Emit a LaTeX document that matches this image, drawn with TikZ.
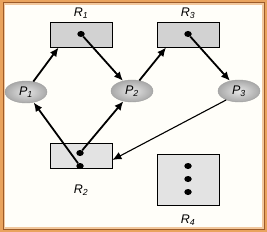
\documentclass[tikz,border=0pt]{standalone}
\usepackage{fontspec}
\setmainfont{Liberation Sans}
\usetikzlibrary{shapes.geometric, arrows.meta}
\definecolor{frame-orange}{HTML}{E9A35E}
\definecolor{frame-brown}{HTML}{9C5B2A}
\definecolor{paper}{HTML}{FFFEF9}
\tikzset{
  % The 'resource' style is the grey box for a resource type
  resource/.style={draw=black, line width=0.9pt, fill=gray!35, shape=rectangle, minimum width=62pt, minimum height=25pt, inner sep=0pt},
  % The 'resource-light' style is the paler box used at the bottom
  resource-light/.style={resource, fill=gray!22},
  % The 'process' style is the shaded ellipse for a process
  process/.style={shape=ellipse, draw=gray!75, line width=0.4pt, inner color=gray!20, outer color=gray!68, minimum width=42pt, minimum height=22pt, inner sep=0pt, font=\fontsize{12.5}{12.5}\selectfont\itshape},
  % The 'instance' style is the black dot for one instance of a resource
  instance/.style={shape=ellipse, fill=black, minimum width=7.5pt, minimum height=6pt, inner sep=0pt},
  % The 'name-text' style is for the resource names
  name-text/.style={font=\fontsize{12.5}{12.5}\selectfont\itshape, text=black, inner sep=0pt},
  % The 'edge' style is for the request and assignment arrows
  edge/.style={draw=black, line width=1.8pt, -{Latex[length=9pt, width=8pt]}},
  % The 'edge-thin' style is the lighter request arrow
  edge-thin/.style={edge, line width=1.1pt}
}
\begin{document}
\begin{tikzpicture}[x=1pt, y=-1pt]

  % Frame round the whole picture
  \useasboundingbox (0,0) rectangle (267,232);
  \fill[frame-orange] (0,0) rectangle (267,232);
  \fill[frame-brown] (2.5,2.5) rectangle (264.5,229.5);
  \fill[frame-orange!60] (3.5,3.5) rectangle (263.5,228.5);
  \fill[paper] (4.8,4.8) rectangle (262.2,227.2);

  % Resources with their instances
  \node[resource] at (81,34.5) (r1) {};
  \node[instance] at (81,34) (r1-dot) {};
  \node[resource] at (188.5,34.5) (r3) {};
  \node[instance] at (188,34) (r3-dot) {};
  \node[resource-light] at (81,155.5) (r2) {};
  \node[instance] at (80,153) (r2-dot-a) {};
  \node[instance] at (80,166) (r2-dot-b) {};
  \node[resource-light, minimum height=51pt] at (188.5,179.5) (r4) {};
  \node[instance] at (188,166) (r4-dot-a) {};
  \node[instance] at (188,179) (r4-dot-b) {};
  \node[instance] at (188,192) (r4-dot-c) {};

  % Resource names
  \node[name-text] at (81,13) (r1-name) {R\textsubscript{1}};
  \node[name-text] at (188,13) (r3-name) {R\textsubscript{3}};
  \node[name-text] at (81,190) (r2-name) {R\textsubscript{2}};
  \node[name-text] at (188,220) (r4-name) {R\textsubscript{4}};

  % Processes
  \node[process] at (26,92) (p1) {P\textsubscript{1}};
  \node[process] at (132,91) (p2) {P\textsubscript{2}};
  \node[process] at (239,91) (p3) {P\textsubscript{3}};

  % Request edges, process to resource
  \draw[edge] (p1.55) -- (r1.-150);
  \draw[edge] (p2.55) -- (r3.-150);
  \draw[edge-thin] (p3.-145) -- (r2.-8);

  % Assignment edges, instance to process
  \draw[edge] (r1-dot) -- (p2);
  \draw[edge] (r3-dot) -- (p3);
  \draw[edge] (r2-dot-b) -- (p1);
  \draw[edge] (r2-dot-a) -- (p2);

\end{tikzpicture}
\end{document}
